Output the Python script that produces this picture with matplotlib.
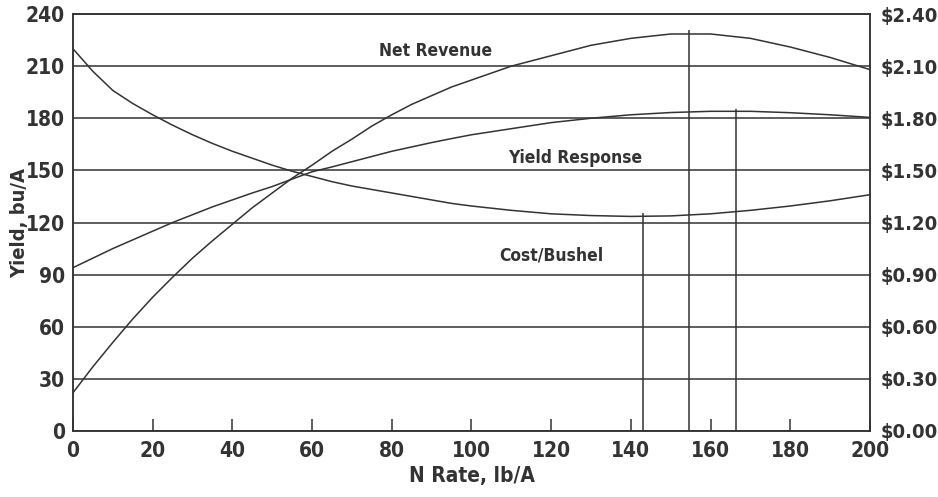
import matplotlib
matplotlib.use("Agg")
import matplotlib.pyplot as plt

# values
n_rate = [0, 5, 10, 15, 20, 25, 30, 35, 40, 45, 50, 55, 60, 65, 70, 75, 80, 85, 90, 95, 100,
          110, 120, 130, 140, 150, 160, 170, 180, 190, 200]
net_revenue = [22, 37, 51, 64.5, 77, 88.5, 99.5, 109.5, 119, 128.5, 137, 145.5, 153, 161, 168,
               175.5, 182, 188, 193, 198, 202,
               210, 216, 222, 226, 228.5, 228.5, 226, 221, 215, 208]
yield_response = [94, 99.5, 105, 110, 115, 120, 124.5, 129, 133, 137, 140.7, 145, 149.2, 152,
                  155, 158, 161, 163.5, 166, 168.3, 170.5,
                  174, 177.5, 180, 182, 183.3, 184, 184, 183.2, 182, 180.5]
cost_per_bushel = [2.20, 2.07, 1.96, 1.885, 1.82, 1.76, 1.705, 1.655, 1.61, 1.57, 1.53, 1.495,
                   1.465, 1.435, 1.41, 1.39, 1.37, 1.35, 1.33, 1.31, 1.295,
                   1.27, 1.25, 1.24, 1.235, 1.238, 1.25, 1.27, 1.295, 1.325, 1.36]

# drop lines at the optimum N rates
opt_rate = [143, 154.5, 166.5]
opt_top = [125.5, 231, 185.5]

yield_ticks = list(range(0, 241, 30))
cost_ticks = [0.0, 0.3, 0.6, 0.9, 1.2, 1.5, 1.8, 2.1, 2.4]
rate_ticks = list(range(0, 201, 20))

INK = "#333333"
plt.rcParams["font.family"] = ["DejaVu Sans"]
plt.rcParams["font.stretch"] = "condensed"
plt.rcParams["font.weight"] = "bold"
plt.rcParams["axes.labelweight"] = "bold"

fig = plt.figure(figsize=(9.38, 4.97), dpi=100)
ax = fig.add_axes([0.0778, 0.1328, 0.8497, 0.839])
ax2 = ax.twinx()

ax.set_xlim(0, 200)
ax.set_ylim(0, 240)
ax2.set_ylim(0, 2.4)

ax.set_yticks(yield_ticks)
ax.grid(axis="y", color=INK, lw=1.1)
ax.set_axisbelow(True)

ax.plot(n_rate, net_revenue, color=INK, lw=1.1)
ax.plot(n_rate, yield_response, color=INK, lw=1.1)
ax2.plot(n_rate, cost_per_bushel, color=INK, lw=1.1)
ax.vlines(opt_rate, 0, opt_top, color=INK, lw=1.1)

ax.text(91, 219, "Net Revenue", ha="center", va="center", fontsize=12.5, color=INK)
ax.text(126, 157, "Yield Response", ha="center", va="center", fontsize=12.5, color=INK)
ax.text(120, 101, "Cost/Bushel", ha="center", va="center", fontsize=12.5, color=INK)

ax.set_xticks(rate_ticks)
ax.tick_params(axis="x", direction="in", length=9, width=1.1, color=INK,
               labelsize=15, labelcolor=INK, pad=7)
ax.tick_params(axis="y", length=0, labelsize=15, labelcolor=INK, pad=6)

ax2.set_yticks(cost_ticks)
ax2.set_yticklabels(["${:.2f}".format(v) for v in cost_ticks])
ax2.tick_params(axis="y", length=0, labelsize=14.5, labelcolor=INK, pad=8)

for a in (ax, ax2):
    for s in a.spines.values():
        s.set_color(INK)
        s.set_linewidth(1.1)

ax.set_xlabel("N Rate, lb/A", fontsize=15, color=INK, labelpad=4)
ax.set_ylabel("Yield, bu/A", fontsize=14.5, color=INK)
ax.yaxis.set_label_coords(-0.055, 0.5)

fig.savefig("out.png", dpi=100, facecolor="white")
